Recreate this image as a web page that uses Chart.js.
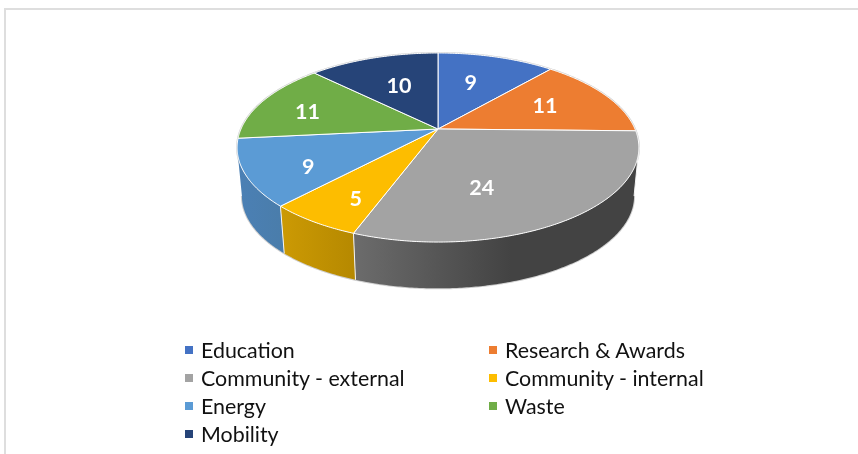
<!DOCTYPE html>
<html>
<head>
<meta charset="utf-8">
<style>
html,body{margin:0;padding:0;background:#fff;overflow:hidden;}
#frame{position:absolute;left:4px;top:8px;width:860px;height:446px;border-top:2px solid #dedede;border-left:2px solid #dedede;}
canvas{position:absolute;left:0;top:0;}
#legend{position:absolute;left:0;top:0;font-family:Lato,sans-serif;font-size:21.4px;color:#111;}
.item{position:absolute;white-space:nowrap;line-height:28px;height:28px;}
.box{position:absolute;left:-16px;top:10px;width:8px;height:8px;}
</style>
</head>
<body>
<div id="frame"></div>
<canvas id="pie" width="858" height="454"></canvas>
<div id="legend"></div>
<script src="https://cdn.jsdelivr.net/npm/chart.js@4"></script>
<script>
const categories=['Education','Research & Awards','Community - external','Community - internal','Energy','Waste','Mobility'];
const values=[9,11,24,5,9,11,10];
const colors=['#4472C4','#ED7D31','#A3A3A3','#FDBD00','#5B9BD5','#70AD47','#264478'];
// side wall shades, left and right end of each slice's gradient
const wallLeft=['#3a62a8','#cc6a28','#6c6c6c','#cc9a04','#4b80b5','#5f943c','#203a66'];
const wallRight=['#3a62a8','#cc6a28','#434343','#b68900','#4a7dab','#5f943c','#203a66'];
// nudge of each number away from its default spot inside the slice
const labelNudge=[[-8,4],[-6,0],[-38,3],[-5,13],[-6,10],[-13,2],[6,6]];

// perspective view of the flat disc: top face and, lower down, the bottom face
const view={cx:438,cy:129,rx:197,ry:90.9,k:0.196};
const floor={cy:178,scale:0.976};

function project(theta,f,face){
  const u=Math.sin(theta)*f, v=-Math.cos(theta)*f, w=1-view.k*v;
  const s=face?face.scale:1, cy=face?face.cy:view.cy;
  return [view.cx+s*view.rx*u/w, cy+s*view.ry*v/w];
}
function trace(ctx,a,b,face,first){
  const n=Math.max(2,Math.ceil(Math.abs(b-a)/0.01));
  for(let i=0;i<=n;i++){
    const p=project(a+(b-a)*i/n,1,face);
    if(i===0&&first) ctx.moveTo(p[0],p[1]); else ctx.lineTo(p[0],p[1]);
  }
}

const pie3d={
  id:'pie3d',
  beforeDatasetsDraw(chart){
    const ctx=chart.ctx, arcs=chart.getDatasetMeta(0).data;
    const angles=arcs.map(arc=>[arc.startAngle+Math.PI/2,arc.endAngle+Math.PI/2]);
    // wall is visible only between the two silhouette points of the disc
    const wallFrom=Math.acos(-view.k), wallTo=2*Math.PI-wallFrom;
    ctx.save();
    ctx.lineJoin='round';

    // soft grey rim round the whole solid
    ctx.beginPath();
    trace(ctx,0,2*Math.PI,null,true);
    ctx.closePath();
    trace(ctx,wallFrom,wallTo,floor,true);
    ctx.strokeStyle='#cfcfcf';
    ctx.lineWidth=2;
    ctx.stroke();

    angles.forEach((ang,i)=>{
      const a=Math.max(ang[0],wallFrom), b=Math.min(ang[1],wallTo);
      if(b<=a) return;
      const pa=project(a,1), pb=project(b,1);
      const g=ctx.createLinearGradient(Math.min(pa[0],pb[0]),0,Math.max(pa[0],pb[0]),0);
      g.addColorStop(0,wallLeft[i]);
      g.addColorStop(i===2?0.55:1,wallRight[i]);
      g.addColorStop(1,wallRight[i]);
      ctx.beginPath();
      trace(ctx,a,b,null,true);
      trace(ctx,b,a,floor,false);
      ctx.closePath();
      ctx.fillStyle=g;
      ctx.fill();
      ctx.beginPath();
      const p0=project(a,1), p1=project(a,1,floor);
      ctx.moveTo(p0[0],p0[1]);
      ctx.lineTo(p1[0],p1[1]);
      ctx.strokeStyle='#f4f4f4';
      ctx.lineWidth=1;
      ctx.stroke();
    });
    angles.forEach((ang,i)=>{
      ctx.beginPath();
      ctx.moveTo(view.cx,view.cy);
      trace(ctx,ang[0],ang[1],null,false);
      ctx.closePath();
      ctx.fillStyle=colors[i];
      ctx.fill();
      ctx.strokeStyle='#ffffff';
      ctx.lineWidth=1;
      ctx.stroke();
    });
    ctx.font='bold 21.5px Lato, sans-serif';
    ctx.fillStyle='#ffffff';
    ctx.textAlign='center';
    ctx.textBaseline='middle';
    angles.forEach((ang,i)=>{
      const p=project((ang[0]+ang[1])/2,0.66);
      ctx.fillText(String(values[i]),p[0]+labelNudge[i][0],p[1]+labelNudge[i][1]);
    });
    ctx.restore();
    return false;
  }
};

const chart=new Chart(document.getElementById('pie'),{
  type:'pie',
  data:{labels:categories,datasets:[{data:values,backgroundColor:colors,borderWidth:0}]},
  options:{
    responsive:false,
    animation:false,
    plugins:{legend:{display:false},tooltip:{enabled:false}}
  },
  plugins:[pie3d]
});

// two column legend, built from the chart's own label list
const legendEl=document.getElementById('legend');
const columnX=[201,505], rowY=[336,364,392,420];
Chart.overrides.pie.plugins.legend.labels.generateLabels(chart).forEach((item,i)=>{
  const el=document.createElement('div');
  el.className='item';
  el.style.left=columnX[i%2]+'px';
  el.style.top=rowY[Math.floor(i/2)]+'px';
  const box=document.createElement('span');
  box.className='box';
  box.style.background=item.fillStyle;
  el.appendChild(box);
  el.appendChild(document.createTextNode(item.text));
  legendEl.appendChild(el);
});
</script>
</body>
</html>
